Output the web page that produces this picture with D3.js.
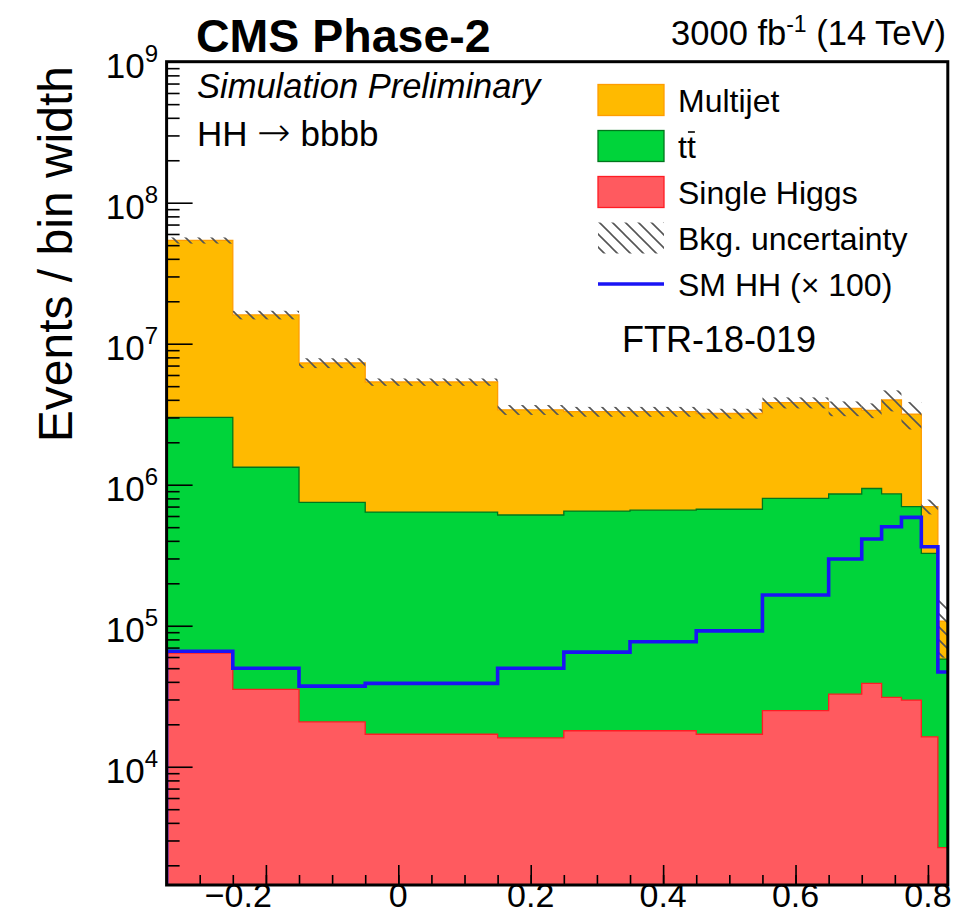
<!DOCTYPE html>
<html>
<head>
<meta charset="utf-8">
<script src="https://cdn.jsdelivr.net/npm/d3@7"></script>
<style>
  html, body { margin: 0; padding: 0; background: #fff; }
  svg { display: block; font-family: "Liberation Sans", Arial, Helvetica, sans-serif; }
</style>
</head>
<body>
<svg id="chart" width="980" height="921"></svg>
<script>
// Bin edges of the discriminant (variable-width bins)
const binEdges = [-0.35, -0.25, -0.15, -0.05, 0.15, 0.25, 0.35, 0.45, 0.55, 0.65, 0.70, 0.73, 0.76, 0.79, 0.815, 0.83];

// Background processes, events / bin width
const singleHiggs = [6.4e4, 3.54e4, 2.08e4, 1.7e4, 1.6e4, 1.8e4, 1.8e4, 1.7e4, 2.5e4, 3.27e4, 3.9e4, 3.1e4, 2.97e4, 1.63e4, 2.67e3];
const ttbar       = [2.936e6, 1.295e6, 7.29e5, 6.23e5, 5.94e5, 6.32e5, 6.42e5, 6.53e5, 7.75e5, 8.27e5, 9.01e5, 8.29e5, 6.70e5, 3.10e5, 5.53e4];
const multijet    = [5.1e7, 1.467e7, 6.55e6, 4.71e6, 2.79e6, 2.65e6, 2.64e6, 2.53e6, 3.02e6, 2.62e6, 2.43e6, 3.13e6, 2.46e6, 3.74e5, 5.0e4];

// Relative uncertainty on the total background
const bkgRelUnc = [0.05, 0.07, 0.08, 0.06, 0.08, 0.08, 0.08, 0.08, 0.09, 0.12, 0.12, 0.17, 0.22, 0.12, 0.45];

// SM HH signal scaled by 100
const smHHx100 = [6.6e4, 5.0e4, 3.73e4, 3.9e4, 5.0e4, 6.5e4, 7.7e4, 9.2e4, 1.65e5, 2.97e5, 4.12e5, 5.04e5, 5.87e5, 3.63e5, 4.7e4];

// Axis ticks
const xTickValues = [-0.2, 0, 0.2, 0.4, 0.6, 0.8];
const xTickLabels = ["\u22120.2", "0", "0.2", "0.4", "0.6", "0.8"];
const yDecades = [4, 5, 6, 7, 8, 9];

const legendEntries = ["Multijet", "tt", "Single Higgs", "Bkg. uncertainty", "SM HH (\u00d7 100)"];

const COL = {
  multijet: "#ffba00", multijetLine: "#ff9d00",
  ttbar: "#00d43a", ttbarLine: "#00761c",
  higgs: "#ff5a5f", higgsLine: "#ff1c24",
  hh: "#1a14f5", hatch: "#555555"
};

const svg = d3.select("#chart");
const frame = { left: 166.6, right: 947.8, top: 61.7, bottom: 885 };

const x = d3.scaleLinear().domain([-0.35, 0.83]).range([frame.left, frame.right]);
const y = d3.scaleLog().domain([1450, 1e9]).range([frame.bottom, frame.top]);

// cumulative stack: single Higgs at the bottom, then ttbar, then multijet
const stackHiggs = singleHiggs.slice();
const stackTT = ttbar.map((v, i) => v + stackHiggs[i]);
const stackAll = multijet.map((v, i) => v + stackTT[i]);

function stepPoints(vals) {
  const pts = [];
  vals.forEach((v, i) => {
    pts.push([binEdges[i], v]);
    pts.push([binEdges[i + 1], v]);
  });
  return pts;
}

const defs = svg.append("defs");
defs.append("clipPath").attr("id", "plotClip")
  .append("rect")
  .attr("x", frame.left).attr("y", frame.top)
  .attr("width", frame.right - frame.left).attr("height", frame.bottom - frame.top);

const hatch = defs.append("pattern")
  .attr("id", "hatch").attr("patternUnits", "userSpaceOnUse")
  .attr("width", 13).attr("height", 13);
hatch.append("path")
  .attr("d", "M-2,-2 L15,15 M-2,11 L2,15 M11,-2 L15,2")
  .attr("stroke", COL.hatch).attr("stroke-width", 1.6).attr("fill", "none");

const plot = svg.append("g").attr("clip-path", "url(#plotClip)");

const area = d3.area().x(d => x(d[0])).y0(frame.bottom).y1(d => y(d[1]));
const outline = d3.line().x(d => x(d[0])).y(d => y(d[1]));

function drawStack(vals, fill, stroke) {
  const pts = stepPoints(vals);
  plot.append("path").attr("d", area(pts)).attr("fill", fill).attr("stroke", "none");
  const full = [[binEdges[0], 1]].concat(pts, [[binEdges[binEdges.length - 1], 1]]);
  plot.append("path").attr("d", outline(full))
    .attr("fill", "none").attr("stroke", stroke).attr("stroke-width", 1.3);
}

drawStack(stackAll, COL.multijet, COL.multijetLine);
drawStack(stackTT, COL.ttbar, COL.ttbarLine);
drawStack(stackHiggs, COL.higgs, COL.higgsLine);

// background uncertainty band
plot.selectAll("rect.unc").data(stackAll).join("rect")
  .attr("class", "unc")
  .attr("x", (d, i) => x(binEdges[i]))
  .attr("width", (d, i) => x(binEdges[i + 1]) - x(binEdges[i]))
  .attr("y", (d, i) => y(d * (1 + bkgRelUnc[i])))
  .attr("height", (d, i) => y(d * (1 - bkgRelUnc[i])) - y(d * (1 + bkgRelUnc[i])))
  .attr("fill", "url(#hatch)");

// signal line
const hhPts = [[binEdges[0], 1]].concat(stepPoints(smHHx100));
plot.append("path").attr("d", outline(hhPts))
  .attr("fill", "none").attr("stroke", COL.hh).attr("stroke-width", 3.6);

// axes (ticks point inward)
const yMinor = [];
for (let k = 3; k <= 8; k++) for (let m = 2; m <= 9; m++) {
  const v = m * Math.pow(10, k);
  if (v >= 1450 && v <= 1e9) yMinor.push(v);
}
const gy = svg.append("g").attr("transform", `translate(${frame.left},0)`);
gy.call(d3.axisLeft(y).tickValues(yDecades.map(d => Math.pow(10, d))).tickSize(-26).tickFormat(""));
gy.append("g").call(d3.axisLeft(y).tickValues(yMinor).tickSize(-13).tickFormat(""));
gy.selectAll(".domain").remove();
gy.selectAll("line").attr("stroke", "#000").attr("stroke-width", 1.6);

const xMinor = d3.range(-7, 17).map(k => k * 0.05).filter(v => v > -0.35 && v < 0.83);
const gx = svg.append("g").attr("transform", `translate(0,${frame.bottom})`);
gx.call(d3.axisBottom(x).tickValues(xTickValues).tickSize(-20).tickFormat(""));
gx.append("g").call(d3.axisBottom(x).tickValues(xMinor).tickSize(-10).tickFormat(""));
gx.selectAll(".domain").remove();
gx.selectAll("line").attr("stroke", "#000").attr("stroke-width", 1.6);

// frame
svg.append("rect")
  .attr("x", frame.left).attr("y", frame.top)
  .attr("width", frame.right - frame.left).attr("height", frame.bottom - frame.top)
  .attr("fill", "none").attr("stroke", "#000").attr("stroke-width", 3);

// x tick labels (negative label shifted so its digits sit left of the tick)
svg.append("g").selectAll("text").data(xTickValues).join("text")
  .attr("x", d => d < 0 ? x(d) + 6 : x(d)).attr("y", 907)
  .attr("text-anchor", d => d < 0 ? "end" : "middle").attr("font-size", 34)
  .text((d, i) => xTickLabels[i]);

// y tick labels 10^n
const yl = svg.append("g").selectAll("text").data(yDecades).join("text")
  .attr("x", 158).attr("y", d => y(Math.pow(10, d)) + 16)
  .attr("text-anchor", "end").attr("font-size", 35);
yl.append("tspan").text("10");
yl.append("tspan").attr("font-size", 24).attr("dy", -16).text(d => d);

// y axis title
svg.append("text")
  .attr("transform", "translate(72,66) rotate(-90)")
  .attr("text-anchor", "end").attr("font-size", 48)
  .text("Events / bin width");

// header texts
svg.append("text").attr("x", 196).attr("y", 52)
  .attr("font-size", 46.5).attr("font-weight", "bold").text("CMS Phase-2");
const lumi = svg.append("text").attr("x", 946).attr("y", 45)
  .attr("text-anchor", "end").attr("font-size", 34.5);
lumi.append("tspan").text("3000 fb");
lumi.append("tspan").attr("font-size", 23).attr("dy", -13).text("-1");
lumi.append("tspan").attr("dy", 13).text(" (14 TeV)");

svg.append("text").attr("x", 197).attr("y", 98)
  .attr("font-size", 34.5).attr("font-style", "italic").text("Simulation Preliminary");
const hh = svg.append("text").attr("x", 197).attr("y", 146).attr("font-size", 35);
hh.append("tspan").text("HH ");
hh.append("tspan").attr("font-family", "DejaVu Sans").attr("font-size", 40).attr("font-weight", 200).text("\u2192");
hh.append("tspan").text(" bbbb");
svg.append("text").attr("x", 622).attr("y", 352)
  .attr("font-size", 36).text("FTR-18-019");

// legend
const lg = svg.append("g");
const rowY = [100, 146, 192, 238, 284];
const boxX = 598, boxW = 66, boxH = 31;
[[COL.multijet, COL.multijetLine], [COL.ttbar, COL.ttbarLine], [COL.higgs, COL.higgsLine]].forEach((c, i) => {
  lg.append("rect").attr("x", boxX).attr("y", rowY[i] - boxH / 2)
    .attr("width", boxW).attr("height", boxH)
    .attr("fill", c[0]).attr("stroke", c[1]).attr("stroke-width", 1.3);
});
lg.append("rect").attr("x", boxX).attr("y", rowY[3] - boxH / 2)
  .attr("width", boxW).attr("height", boxH).attr("fill", "url(#hatch)");
lg.append("line").attr("x1", boxX).attr("x2", boxX + boxW)
  .attr("y1", rowY[4]).attr("y2", rowY[4])
  .attr("stroke", COL.hh).attr("stroke-width", 3.6);

legendEntries.forEach((t, i) => {
  const tx = lg.append("text").attr("x", 678).attr("y", rowY[i] + 12)
    .attr("font-size", 32).text(t);
  if (i === 1) {
    // overbar on the second t of t-tbar
    const bb = tx.node().getBBox();
    lg.append("line")
      .attr("x1", bb.x + bb.width / 2 + 1).attr("x2", bb.x + bb.width - 1)
      .attr("y1", rowY[i] - 14).attr("y2", rowY[i] - 14)
      .attr("stroke", "#000").attr("stroke-width", 1.6);
  }
});
</script>
</body>
</html>
